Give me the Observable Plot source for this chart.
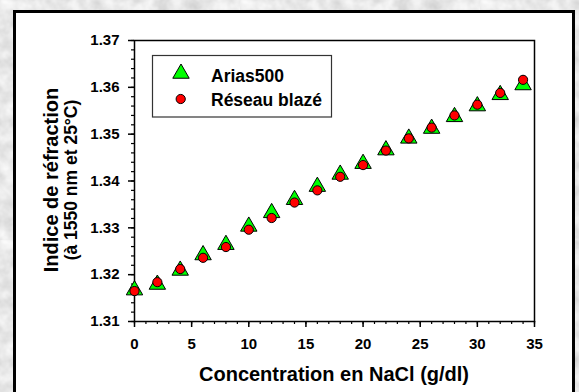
<!DOCTYPE html>
<html><head><meta charset="utf-8">
<script src="https://cdn.jsdelivr.net/npm/d3@7"></script>
<script src="https://cdn.jsdelivr.net/npm/@observablehq/plot@0.6"></script>
<style>
html,body{margin:0;padding:0;width:579px;height:392px;overflow:hidden;}
body{position:relative;background-color:#d9d9d9;background-image:url("data:image/svg+xml;utf8,<svg xmlns='http://www.w3.org/2000/svg' width='240' height='240'><filter id='n'><feTurbulence type='fractalNoise' baseFrequency='0.07' numOctaves='3' seed='5'/><feColorMatrix type='matrix' values='0.4 0 0 0 0.6  0.4 0 0 0 0.6  0.4 0 0 0 0.6  0 0 0 0 1'/></filter><rect width='240' height='240' filter='url(%23n)'/></svg>");font-family:"Liberation Sans",Arial,sans-serif;}
#panel{position:absolute;left:13px;top:10px;width:556px;height:400px;border:3px solid #000;background:#fff;}
#chart{position:absolute;left:0;top:0;}
</style></head><body>
<div id="panel"></div><div id="chart"></div>
<script>
const concentration = [0, 2, 4, 6, 8, 10, 12, 14, 16, 18, 20, 22, 24, 26, 28, 30, 32, 34];
const arias500 = [1.3167, 1.3179, 1.3209, 1.3242, 1.3264, 1.3303, 1.3332, 1.3360, 1.3388, 1.3414, 1.3437, 1.3466, 1.3491, 1.3512, 1.3537, 1.3560, 1.3584, 1.3605];
const reseauBlaze = [1.3165, 1.3184, 1.3212, 1.3236, 1.3259, 1.3296, 1.3321, 1.3354, 1.3380, 1.3409, 1.3434, 1.3465, 1.3491, 1.3514, 1.3540, 1.3563, 1.3588, 1.3616];
const xTicks = [0, 5, 10, 15, 20, 25, 30, 35];
const yTicks = [1.31, 1.32, 1.33, 1.34, 1.35, 1.36, 1.37];
const seriesNames = ["Arias500", "Réseau blazé"];
const xLabel = "Concentration en NaCl (g/dl)";
const yLabel1 = "Indice de réfraction";
const yLabel2 = "(à 1550 nm et 25°C)";

const xMinor = d3.range(0, 36, 1);
const yMinor = d3.ticks(1.31, 1.37, 30);

const data = concentration.map((c, i) => ({c, a: arias500[i], r: reseauBlaze[i]}));
const font = "Liberation Sans, Arial, sans-serif";
const triR = 6.1, circR = 4.6;

const plot = Plot.plot({
  width: 579, height: 392,
  marginLeft: 134, marginRight: 45, marginTop: 40, marginBottom: 71,
  style: {background: "transparent", fontFamily: font, overflow: "visible"},
  x: {domain: [0, 35]},
  y: {domain: [1.31, 1.37]},
  marks: [
    Plot.axisX(xMinor, {tickSize: 3, tickFormat: () => "", label: null, stroke: "black", strokeWidth: 1.2}),
    Plot.axisX(xTicks, {tickSize: 6, tickPadding: 11, label: null, fontSize: 15, fontWeight: "bold", fill: "black", stroke: "black", strokeWidth: 1.5}),
    Plot.axisY(yMinor, {tickSize: 3, tickFormat: () => "", label: null, stroke: "black", strokeWidth: 1.2}),
    Plot.axisY(yTicks, {tickSize: 6, tickPadding: 9, tickFormat: d3.format(".2f"), label: null, fontSize: 15, fontWeight: "bold", fill: "black", stroke: "black", strokeWidth: 1.5}),
    Plot.frame({stroke: "black", strokeWidth: 1.5}),
    Plot.dot(data, {x: "c", y: "a", symbol: "triangle", r: triR, fill: "#00ff00", stroke: "black", strokeWidth: 1}),
    Plot.dot(data, {x: "c", y: "r", symbol: "circle", r: circR, fill: "#ff0000", stroke: "black", strokeWidth: 1})
  ]
});
document.getElementById("chart").appendChild(plot);

const svg = d3.select(plot);
// axis titles
svg.append("text").attr("x", 334).attr("y", 381).attr("text-anchor", "middle")
  .attr("font-family", font).attr("font-weight", "bold").attr("font-size", 20).attr("fill", "black").text(xLabel);
svg.append("text").attr("transform", "translate(58,180) rotate(-90)").attr("text-anchor", "middle")
  .attr("font-family", font).attr("font-weight", "bold").attr("font-size", 20).attr("fill", "black").text(yLabel1);
svg.append("text").attr("transform", "translate(77,180) rotate(-90)").attr("text-anchor", "middle")
  .attr("font-family", font).attr("font-weight", "bold").attr("font-size", 17.5).attr("fill", "black").text(yLabel2);

// legend
const lg = svg.append("g");
lg.append("rect").attr("x", 152.5).attr("y", 55.5).attr("width", 179).attr("height", 61.5)
  .attr("fill", "white").attr("stroke", "#333").attr("stroke-width", 1.2);
lg.append("path").attr("transform", "translate(181,73.5)")
  .attr("d", d3.symbol(d3.symbolTriangle, triR * triR * Math.PI)())
  .attr("fill", "#00ff00").attr("stroke", "black");
lg.append("circle").attr("cx", 180.7).attr("cy", 99).attr("r", circR)
  .attr("fill", "#ff0000").attr("stroke", "black");
lg.selectAll("text.lt").data(seriesNames).join("text")
  .attr("x", 211).attr("y", (d, i) => i === 0 ? 82 : 106).attr("text-anchor", "start")
  .attr("font-family", font).attr("font-weight", "bold").attr("font-size", 17.5).attr("fill", "black").text(d => d);
</script>
</body></html>
